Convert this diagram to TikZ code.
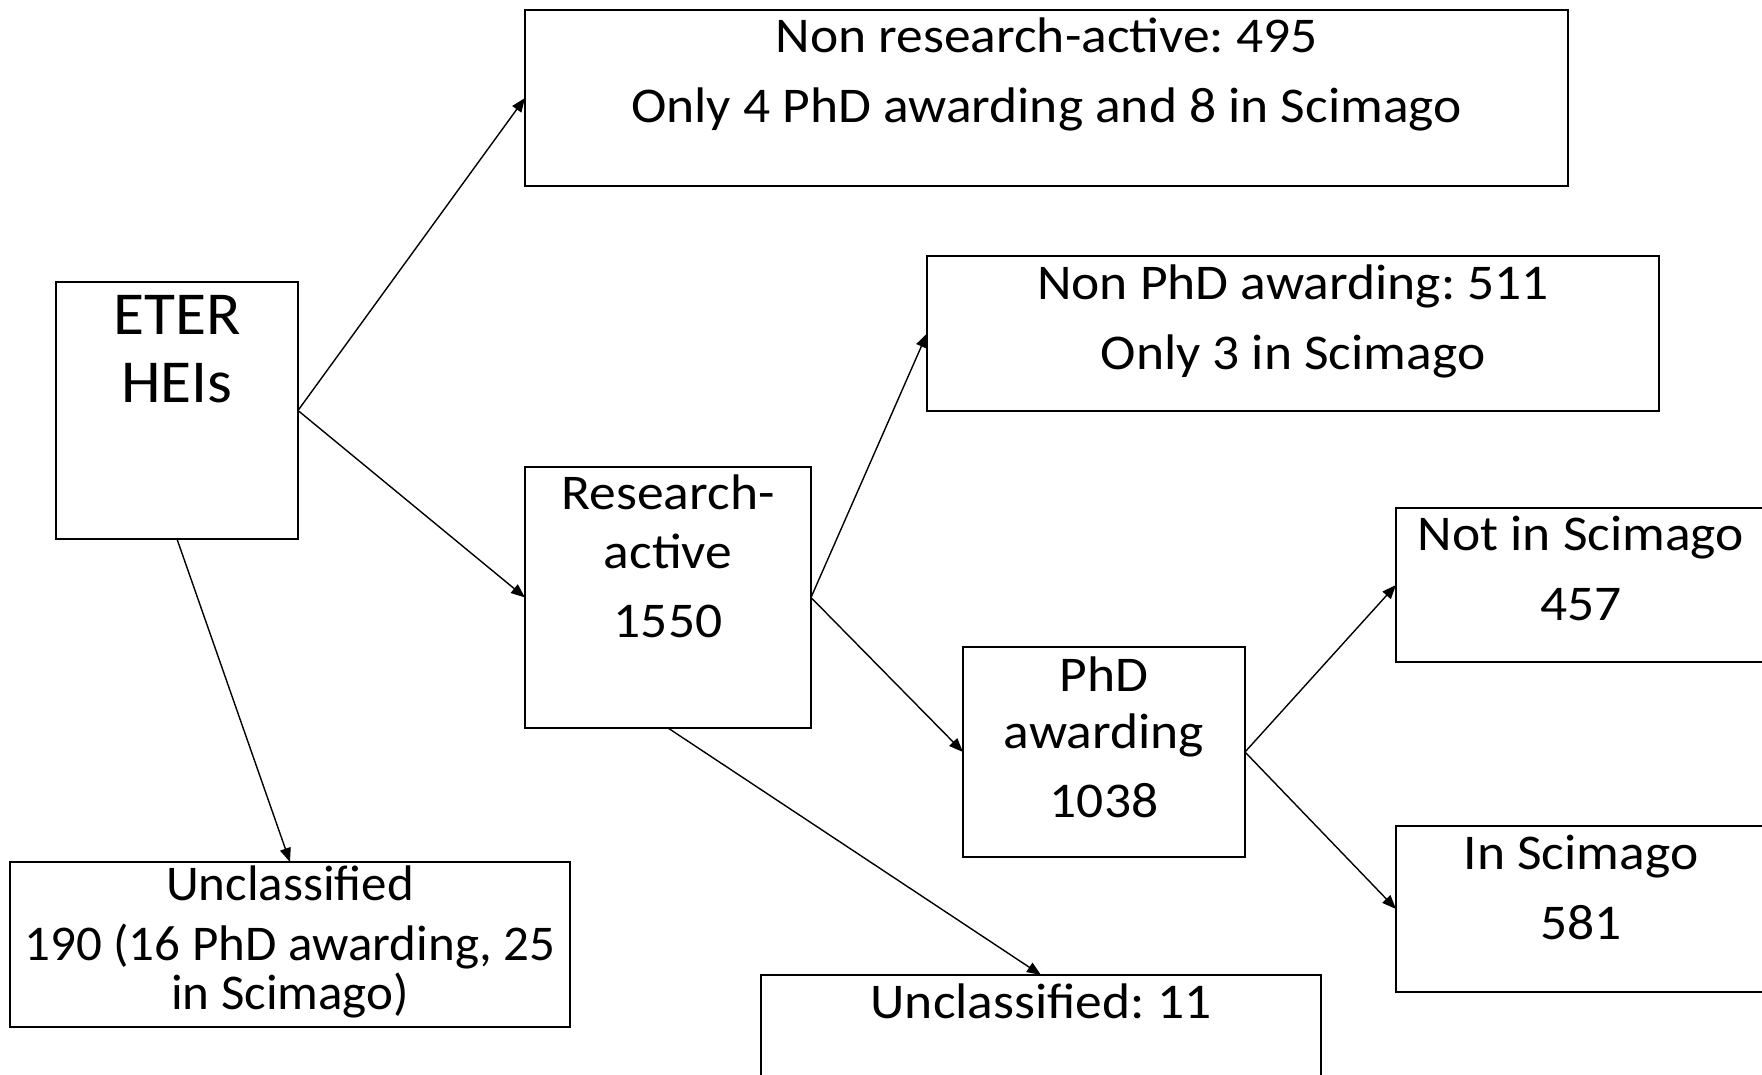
\documentclass[tikz,border=0pt]{standalone}
\usepackage{fontspec}
\setmainfont{Carlito}[FakeStretch=1.07]
\newfontfamily\plainfont{Carlito}[FakeStretch=1.02]
\newfontfamily\eterfont{Carlito}[FakeStretch=1.04]
\usetikzlibrary{arrows.meta}
\newcommand{\bxtext}[5]{\parbox[c][#2pt][t]{#1pt}{\centering\frenchspacing\fontsize{#4pt}{#4pt}\selectfont\lineskiplimit=-1000pt\lineskip=0pt\rule{0pt}{#3pt}#5}}
\tikzset{
  box/.style={draw, line width=1.8pt, inner sep=0pt, outer sep=0pt, anchor=north west},
  arr/.style={line width=1.4pt, -{Triangle[length=14pt,width=11pt]}}
}
\begin{document}
\begin{tikzpicture}[x=1pt,y=-1pt]
\clip (0,0) rectangle (1762,1075);
\fill[white] (0,0) rectangle (1762,1075);
\node[box] (nra) at (525,10) {\bxtext{1043}{176}{43}{50}{Non research-active: 495\\[20pt]Only 4 PhD awarding and 8 in Scimago}};
\node[box] (eter) at (56,282) {\bxtext{242}{257}{52}{61}{\eterfont ETER\\[8pt]HEIs}};
\node[box] (nphd) at (927,256) {\bxtext{732}{155}{44}{50}{Non PhD awarding: 511\\[20pt]Only 3 in Scimago}};
\node[box] (ra) at (525,467) {\bxtext{286}{261}{42}{50}{Research-\\[9pt]active\\[19.5pt]1550}};
\node[box] (nis) at (1396,508) {\bxtext{370}{154}{42}{50}{Not in Scimago\\[20pt]457}};
\node[box] (phd) at (963,647) {\bxtext{282}{210}{44}{50}{PhD\\[7.5pt]awarding\\[19pt]1038}};
\node[box] (is) at (1396,826) {\bxtext{370}{166}{43}{50}{In Scimago\\[20pt]581}};
\node[box] (u11) at (761,975) {\bxtext{560}{160}{43}{50}{Unclassified: 11}};
\node[box] (ucl) at (10,862) {\bxtext{560}{165}{38}{50}{\plainfont Unclassified\\[10pt]190 (16 PhD awarding, 25\\[-1pt]in Scimago)}};
\draw[arr] (eter.east) -- (nra.west);
\draw[arr] (eter.east) -- (ra.west);
\draw[arr] (eter.south) -- (ucl.north);
\draw[arr] (ra.east) -- (nphd.west);
\draw[arr] (ra.east) -- (phd.west);
\draw[arr] (ra.south) -- (u11.north);
\draw[arr] (phd.east) -- (nis.west);
\draw[arr] (phd.east) -- (is.west);
\end{tikzpicture}
\end{document}
